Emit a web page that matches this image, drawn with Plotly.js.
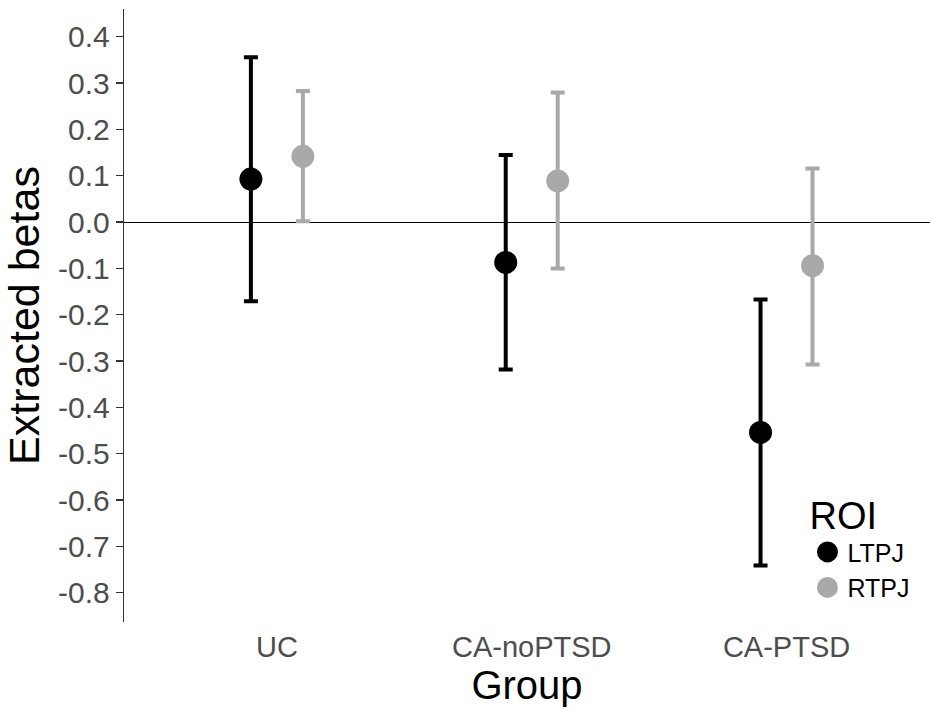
<!DOCTYPE html>
<html>
<head>
<meta charset="utf-8">
<script src="https://cdn.plot.ly/plotly-3.0.1.min.js"></script>
<style>
html, body { margin: 0; padding: 0; background: #ffffff; }
#chart { width: 930px; height: 710px; }
</style>
</head>
<body>
<div id="chart"></div>
<script>
// ---- data ----
const groups = ['UC', 'CA-noPTSD', 'CA-PTSD'];
const roiNames = ['LTPJ', 'RTPJ'];
const ltpjMean  = [0.093, -0.087, -0.454];
const ltpjUpper = [0.356, 0.145, -0.167];
const ltpjLower = [-0.171, -0.318, -0.741];
const rtpjMean  = [0.142, 0.089, -0.094];
const rtpjUpper = [0.283, 0.280, 0.116];
const rtpjLower = [0.002, -0.100, -0.307];
const yTickValues = [-0.8, -0.7, -0.6, -0.5, -0.4, -0.3, -0.2, -0.1, 0.0, 0.1, 0.2, 0.3, 0.4];
const yTickLabels = ['-0.8', '-0.7', '-0.6', '-0.5', '-0.4', '-0.3', '-0.2', '-0.1', '0.0', '0.1', '0.2', '0.3', '0.4'];

// ---- styling ----
const FONT = '"Liberation Sans", Arial, Helvetica, sans-serif';
const dodge = 0.102;
const colors = ['#000000', '#A9A9A9'];
const pos = groups.map((g, i) => i);

function makeTrace(name, mean, upper, lower, offset, color) {
  return {
    type: 'scatter',
    mode: 'markers',
    name: name,
    x: pos.map(p => p + offset),
    y: mean,
    marker: { color: color, size: 18, line: { color: color, width: 5 } },
    error_y: {
      type: 'data',
      symmetric: false,
      array: upper.map((u, i) => u - mean[i]),
      arrayminus: mean.map((m, i) => m - lower[i]),
      color: color,
      thickness: 4,
      width: 7
    },
    hoverinfo: 'x+y'
  };
}

const data = [
  makeTrace(roiNames[0], ltpjMean, ltpjUpper, ltpjLower, -dodge, colors[0]),
  makeTrace(roiNames[1], rtpjMean, rtpjUpper, rtpjLower, dodge, colors[1])
];

const layout = {
  width: 930,
  height: 710,
  margin: { l: 124, r: 0, t: 9, b: 88 },
  paper_bgcolor: '#ffffff',
  plot_bgcolor: '#ffffff',
  font: { family: FONT, color: '#000000' },
  showlegend: true,
  xaxis: {
    range: [-0.6, 2.563],
    tickvals: pos,
    ticktext: groups,
    showgrid: false,
    zeroline: false,
    showline: false,
    ticks: '',
    ticklabelstandoff: 5,
    tickfont: { family: FONT, size: 29, color: '#4D4D4D' },
    title: { text: 'Group', font: { family: FONT, size: 40, color: '#000000' }, standoff: 8 },
    fixedrange: true
  },
  yaxis: {
    range: [-0.863, 0.460],
    tickvals: yTickValues,
    ticktext: yTickLabels,
    showgrid: false,
    zeroline: true,
    zerolinecolor: '#000000',
    zerolinewidth: 1.2,
    showline: true,
    linecolor: '#333333',
    linewidth: 1.3,
    ticks: 'outside',
    ticklen: 7,
    tickwidth: 1.3,
    tickcolor: '#333333',
    tickfont: { family: FONT, size: 30, color: '#4D4D4D' },
    title: { text: 'Extracted betas', font: { family: FONT, size: 43, color: '#000000' } },
    fixedrange: true
  },
  legend: {
    x: 0.848,
    xanchor: 'left',
    y: 0.232,
    yanchor: 'top',
    bgcolor: 'rgba(0,0,0,0)',
    font: { family: FONT, size: 25, color: '#000000' },
    title: { text: 'ROI', font: { family: FONT, size: 38, color: '#000000' } },
    tracegroupgap: 0
  }
};

Plotly.newPlot('chart', data, layout, { displayModeBar: false, staticPlot: true });
</script>
</body>
</html>
